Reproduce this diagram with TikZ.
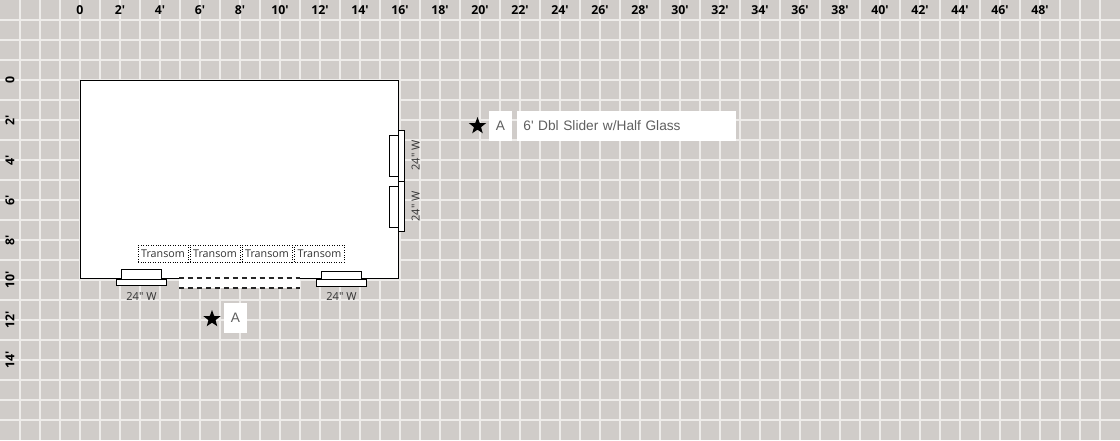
\documentclass[tikz,border=0pt]{standalone}
\usepackage{fontspec}
\setmainfont{Open Sans}[Ligatures=TeXOff]
\newfontfamily\keyfont{Liberation Sans}
\usetikzlibrary{shapes.geometric}
\definecolor{floorgray}{RGB}{208,204,201}
\definecolor{gridline}{RGB}{238,236,234}
\definecolor{wintext}{RGB}{50,50,50}
\definecolor{keytext}{RGB}{95,95,95}
\tikzset{
rulerlabel/.style={font=\fontsize{7pt}{8pt}\selectfont\bfseries,text=black,inner sep=0pt},
winlabel/.style={font=\fontsize{6.3pt}{8pt}\selectfont,text=wintext,inner sep=0pt},
transom/.style={draw,densely dotted,line width=0.4pt,fill=white,font=\fontsize{6.1pt}{8pt}\selectfont,text=wintext,inner sep=0pt,minimum height=17*0.567pt},
keybox/.style={fill=white,inner sep=0pt,minimum height=30*0.567pt,font=\keyfont\fontsize{7.8pt}{10pt}\selectfont,text=keytext},
keystar/.style={star,star points=5,star point ratio=2.4,fill=black,inner sep=0pt,minimum size=18*0.567pt},
winpart/.style={draw=black,fill=white,line width=0.55pt},
slider/.style={line width=1.2pt,dash pattern=on 5*0.567pt off 4*0.567pt,draw=black!85}
}
\begin{document}
\begin{tikzpicture}[x=0.02cm,y=-0.02cm]
\useasboundingbox (0,0) rectangle (1120,440);
\fill [floorgray] (0,0) rectangle (1120,440);
\foreach \x in {20,40,...,1100}{
\draw [gridline,line width=1.1pt] (\x,0) -- (\x,440);
}
\foreach \y in {20,40,...,420}{
\draw [gridline,line width=1.1pt] (0,\y) -- (1120,\y);
}
% rulers
\node [rulerlabel] (top0) at (80,10) {0};
\foreach \n in {2,4,...,48}{
\node [rulerlabel] (top\n) at ({80+20*\n},10) {\n'};
}
\node [rulerlabel,rotate=90] (left0) at (10,80) {0};
\foreach \n in {2,4,...,14}{
\node [rulerlabel,rotate=90] (left\n) at (10,{80+20*\n}) {\n'};
}
% room
\draw [black,fill=white,line width=0.57pt] (80.5,80.5) rectangle (398.5,278.5);
% bottom windows
\draw [winpart] (121.5,269.5) rectangle (161.5,279);
\draw [winpart] (116.5,279.5) rectangle (166.5,285);
\node [winlabel] (winA) at (141.5,296) {24" W};
\draw [winpart] (321.5,271) rectangle (361.5,279);
\draw [winpart] (316.5,279.5) rectangle (366.5,286);
\node [winlabel] (winB) at (341.5,296.5) {24" W};
% right windows
\draw [winpart] (389.5,135.5) rectangle (398.5,176);
\draw [winpart] (398.5,130.5) rectangle (404.5,181);
\node [winlabel,rotate=90] (winC) at (415.5,155.5) {24" W};
\draw [winpart] (389.5,186.5) rectangle (398.5,227);
\draw [winpart] (398.5,181.5) rectangle (404.5,231.5);
\node [winlabel,rotate=90] (winD) at (415.5,206.5) {24" W};
% slider
\fill [white] (179,278) rectangle (300,288);
\draw [slider] (179,278) -- (300,278);
\draw [slider] (179,288) -- (300,288);
% transoms
\node [transom,minimum width=50*0.567pt] (transomA) at (163,253.5) {Transom};
\node [transom,minimum width=50*0.567pt] (transomB) at (215,253.5) {Transom};
\node [transom,minimum width=50*0.567pt] (transomC) at (267,253.5) {Transom};
\node [transom,minimum width=50*0.567pt] (transomD) at (319.5,253.5) {Transom};
% key
\node [keystar] (starA) at (212,319) {};
\node [keybox,minimum width=24*0.567pt] (markA) at (235.5,318) {A};
\node [keystar] (starB) at (477.5,126) {};
\node [keybox,minimum width=24*0.567pt] (markB) at (500.5,126) {A};
\node [keybox,minimum width=219.5*0.567pt,text width=207*0.567pt,align=left] (keyB) at (626.5,126) {6' Dbl Slider w/Half Glass};
\end{tikzpicture}
\end{document}
